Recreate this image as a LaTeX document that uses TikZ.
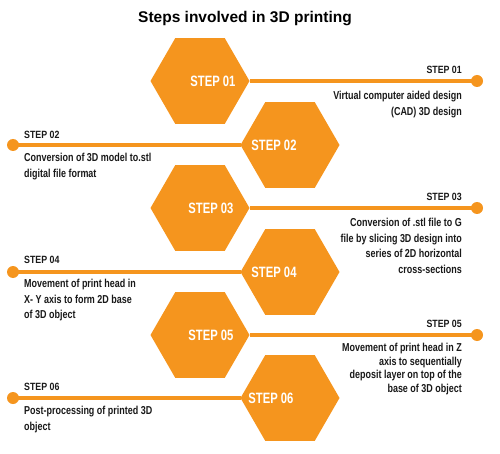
\documentclass[tikz,border=0pt]{standalone}
\usepackage{fontspec}
\setmainfont{Liberation Sans}
\newfontfamily\narrowfont[FakeStretch=0.84]{Liberation Sans}
\newfontfamily\descfont[FakeStretch=0.78]{Liberation Sans}
\newfontfamily\hexfont[FakeStretch=0.75]{Liberation Sans}
\usetikzlibrary{shapes.geometric, positioning}
\definecolor{PrintOrange}{RGB}{245, 149, 30}
\definecolor{InkBlack}{RGB}{25, 25, 25}

\begin{document}
\begin{tikzpicture}[x=1pt, y=-1pt,
    hexa/.style={regular polygon, regular polygon sides=6, minimum size=99pt, inner sep=0pt, outer sep=0pt, fill=PrintOrange},
    hexlabel/.style={font=\hexfont\bfseries\fontsize{15}{18}\selectfont, text=white, inner sep=0pt},
    stepname/.style={font=\narrowfont\bfseries\fontsize{10.5}{12}\selectfont, text=InkBlack, inner sep=0pt},
    stepdesc/.style={font=\descfont\bfseries\fontsize{11.5}{15.5}\selectfont, text=InkBlack, inner sep=0pt},
    endpt/.style={circle, fill=PrintOrange, minimum size=12pt, inner sep=0pt},
    link/.style={PrintOrange, line width=4pt}]
    \useasboundingbox (0,0) rectangle (500,454);

    % Titulo
    \node[font=\bfseries\fontsize{15.5}{18}\selectfont, anchor=base] (title) at (245,22.5) {Steps involved in 3D printing};

    % Hexagonos
    \node[hexa] (h1) at (200,81) {};
    \node[hexa] (h2) at (290,145) {};
    \node[hexa] (h3) at (200,208) {};
    \node[hexa] (h4) at (290,272) {};
    \node[hexa] (h5) at (200,335) {};
    \node[hexa] (h6) at (290,398) {};
    \node[hexlabel] (t1) at ([xshift=13pt]h1.center) {STEP 01};
    \node[hexlabel] (t2) at ([xshift=-16pt]h2.center) {STEP 02};
    \node[hexlabel] (t3) at ([xshift=11pt]h3.center) {STEP 03};
    \node[hexlabel] (t4) at ([xshift=-16pt]h4.center) {STEP 04};
    \node[hexlabel] (t5) at ([xshift=11pt]h5.center) {STEP 05};
    \node[hexlabel] (t6) at ([xshift=-19pt]h6.center) {STEP 06};

    % Lineas y puntos
    \node[endpt] (d1) at (477,81) {};
    \node[endpt] (d2) at (13,145) {};
    \node[endpt] (d3) at (477,208) {};
    \node[endpt] (d4) at (13,272) {};
    \node[endpt] (d5) at (477,335) {};
    \node[endpt] (d6) at (13,398) {};
    \draw[link] (h1.east) -- (d1.center);
    \draw[link] (d2.center) -- (h2.west);
    \draw[link] (h3.east) -- (d3.center);
    \draw[link] (d4.center) -- (h4.west);
    \draw[link] (h5.east) -- (d5.center);
    \draw[link] (d6.center) -- (h6.west);

    % Textos a la derecha
    \node[stepname, anchor=east] (s1) at (462,70) {STEP 01};
    \node[stepdesc, anchor=north east, align=right] (c1) at (462,91) {Virtual computer aided design\\(CAD) 3D design};
    \node[stepname, anchor=east] (s3) at (462,197) {STEP 03};
    \node[stepdesc, anchor=north east, align=right] (c3) at (462,218) {Conversion of .stl file to G\\file by slicing 3D design into\\series of 2D horizontal\\cross-sections};
    \node[stepname, anchor=east] (s5) at (462,324) {STEP 05};
    \node[stepdesc, anchor=north east, align=right, font=\descfont\bfseries\fontsize{11.5}{13.5}\selectfont] (c5) at (462,343) {Movement of print head in Z\\axis to sequentially\\deposit layer on top of the\\base of 3D object};

    % Textos a la izquierda
    \node[stepname, anchor=west] (s2) at (24,135) {STEP 02};
    \node[stepdesc, anchor=north west, align=left] (c2) at (24,153) {Conversion of 3D model to.stl\\digital file format};
    \node[stepname, anchor=west] (s4) at (24,260) {STEP 04};
    \node[stepdesc, anchor=north west, align=left] (c4) at (24,279) {Movement of print head in\\X- Y axis to form 2D base\\of 3D object};
    \node[stepname, anchor=west] (s6) at (24,387) {STEP 06};
    \node[stepdesc, anchor=north west, align=left] (c6) at (24,406) {Post-processing of printed 3D\\object};
\end{tikzpicture}
\end{document}
